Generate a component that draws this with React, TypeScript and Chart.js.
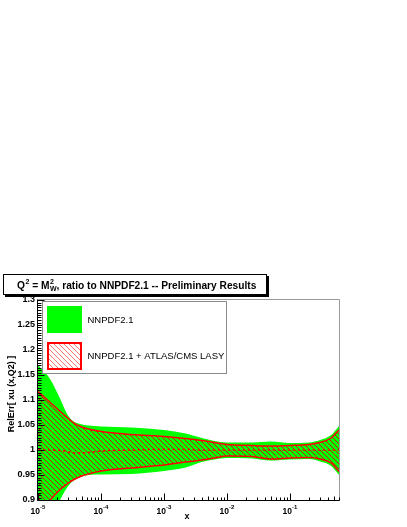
import React, { useEffect, useRef } from 'react';
import { Chart, registerables } from 'chart.js';

Chart.register(...registerables);

// ---- data ----
const xValues = [1e-5, 1.5e-5, 2.2e-5, 2.9e-5, 3.6e-5, 4.7e-5, 6.3e-5, 1e-4, 3e-4, 1e-3, 2.2e-3, 4e-3, 6.3e-3, 1e-2, 2.5e-2, 5e-2, 0.1, 0.2, 0.3, 0.45, 0.6];
const nnpdfUpper = [1.17, 1.145, 1.105, 1.072, 1.058, 1.052, 1.049, 1.047, 1.045, 1.04, 1.033, 1.024, 1.018, 1.015, 1.015, 1.017, 1.014, 1.015, 1.02, 1.03, 1.048];
const nnpdfLower = [0.8, 0.85, 0.898, 0.925, 0.938, 0.946, 0.95, 0.951, 0.952, 0.958, 0.965, 0.976, 0.981, 0.984, 0.983, 0.979, 0.981, 0.982, 0.977, 0.968, 0.95];
const lasyUpper = [1.117, 1.097, 1.078, 1.065, 1.055, 1.047, 1.042, 1.037, 1.031, 1.027, 1.023, 1.019, 1.015, 1.011, 1.009, 1.008, 1.009, 1.011, 1.015, 1.024, 1.04];
const lasyLower = [0.86, 0.897, 0.92, 0.932, 0.94, 0.947, 0.952, 0.958, 0.964, 0.97, 0.976, 0.98, 0.984, 0.988, 0.987, 0.982, 0.984, 0.985, 0.982, 0.974, 0.957];
const lasyCentral = [1.0, 1.0, 0.999, 0.997, 0.994, 0.994, 0.995, 0.998, 1.0, 1.001, 1.001, 1.0, 1.0, 1.0, 1.0, 1.0, 1.0, 1.0, 1.0, 1.0, 1.0];

const yTickValues = [1.3, 1.25, 1.2, 1.15, 1.1, 1.05, 1.0, 0.95, 0.9];
const yTickLabels = ['1.3', '1.25', '1.2', '1.15', '1.1', '1.05', '1', '0.95', '0.9'];
const xTickDecades = [-5, -4, -3, -2, -1];
const seriesNames = ['NNPDF2.1', 'NNPDF2.1 + ATLAS/CMS LASY'];
const yAxisTitle = 'RelErr[ xu (x,Q2) ]';
const xAxisTitle = 'x';
const titleRest = ', ratio to NNPDF2.1 -- Preliminary Results';

const X_MIN = 1e-5;
const X_MAX = 0.6;
const Y_MIN = 0.9;
const Y_MAX = 1.3;

const FONT = '"Liberation Sans", Arial, Helvetica, sans-serif';
const GREEN = '#00ff00';
const RED = '#ff0000';

function makeHatch(ctx: CanvasRenderingContext2D, bg: string | null, fg: string) {
  const c = document.createElement('canvas');
  c.width = 5;
  c.height = 5;
  const g = c.getContext('2d')!;
  if (bg) {
    g.fillStyle = bg;
    g.fillRect(0, 0, 5, 5);
  }
  g.fillStyle = fg;
  for (let i = 0; i < 5; i++) g.fillRect(i, i, 1, 1);
  return ctx.createPattern(c, 'repeat')!;
}

const rootPlugin = {
  id: 'rootStyle',
  afterDatasetsDraw(chart: any) {
    const { ctx, chartArea: a, scales } = chart;
    const xs = scales.x;
    const ys = scales.y;
    const L = Math.round(a.left) - 0.5;
    const R = Math.round(a.right) + 0.5;
    const T = Math.round(a.top) - 0.5;
    const B = Math.round(a.bottom) + 0.5;
    ctx.save();
    ctx.lineWidth = 1;
    // frame top / right (grey)
    ctx.strokeStyle = '#9a9a9a';
    ctx.beginPath();
    ctx.moveTo(L, T);
    ctx.lineTo(R, T);
    ctx.lineTo(R, B);
    ctx.stroke();
    // axes
    ctx.strokeStyle = '#000';
    ctx.beginPath();
    ctx.moveTo(L, T);
    ctx.lineTo(L, B);
    ctx.lineTo(R, B);
    ctx.stroke();
    // y ticks
    ctx.beginPath();
    const nSteps = Math.round((Y_MAX - Y_MIN) / 0.005);
    for (let i = 0; i <= nSteps; i++) {
      const v = Y_MIN + i * 0.005;
      const y = Math.round(ys.getPixelForValue(v)) + 0.5;
      const len = i % 10 === 0 ? 7 : 4;
      ctx.moveTo(L, y);
      ctx.lineTo(L + len, y);
    }
    ctx.stroke();
    // x ticks
    ctx.beginPath();
    for (const d of xTickDecades) {
      for (let m = 1; m <= 9; m++) {
        const v = m * Math.pow(10, d);
        if (v > X_MAX * 1.0001) break;
        const x = Math.round(xs.getPixelForValue(v)) + 0.5;
        const len = m === 1 ? 7 : m === 5 ? 4 : 3;
        ctx.moveTo(x, B);
        ctx.lineTo(x, B - len);
      }
    }
    ctx.stroke();

    // y tick labels
    ctx.fillStyle = '#000';
    ctx.font = `bold 9px ${FONT}`;
    ctx.textAlign = 'right';
    ctx.textBaseline = 'middle';
    yTickValues.forEach((v, i) => {
      ctx.fillText(yTickLabels[i], a.left - 3, ys.getPixelForValue(v));
    });

    // x tick labels 10^d
    ctx.textAlign = 'left';
    ctx.textBaseline = 'alphabetic';
    for (const d of xTickDecades) {
      const x = xs.getPixelForValue(Math.pow(10, d));
      ctx.font = `bold 8.5px ${FONT}`;
      const w1 = ctx.measureText('10').width;
      ctx.font = `bold 6px ${FONT}`;
      const sup = String(d);
      const w2 = ctx.measureText(sup).width;
      const x0 = x - (w1 + w2) / 2;
      ctx.font = `bold 8.5px ${FONT}`;
      ctx.fillText('10', x0, 513.5);
      ctx.font = `bold 6px ${FONT}`;
      ctx.fillText(sup, x0 + w1, 509);
    }

    // axis titles
    ctx.font = `bold 9px ${FONT}`;
    ctx.textAlign = 'center';
    ctx.fillText(xAxisTitle, 187, 519);
    ctx.save();
    ctx.translate(14, 394);
    ctx.rotate(-Math.PI / 2);
    ctx.textBaseline = 'alphabetic';
    ctx.fillText(yAxisTitle, 0, 0);
    ctx.restore();

    // legend
    ctx.fillStyle = '#fff';
    ctx.fillRect(42, 301, 184, 72);
    ctx.strokeStyle = '#8a8a8a';
    ctx.strokeRect(42.5, 301.5, 184, 72);
    ctx.fillStyle = GREEN;
    ctx.fillRect(47, 306, 35, 27);
    ctx.fillStyle = makeHatch(ctx, '#ffffff', 'rgba(255,0,0,0.55)');
    ctx.fillRect(48, 343, 33, 26);
    ctx.strokeStyle = RED;
    ctx.lineWidth = 2;
    ctx.strokeRect(48, 343, 33, 26);
    ctx.fillStyle = '#000';
    ctx.font = `9.5px ${FONT}`;
    ctx.textAlign = 'left';
    ctx.textBaseline = 'middle';
    ctx.fillText(seriesNames[0], 87.5, 320.5);
    ctx.fillText(seriesNames[1], 87.5, 356);

    // title box
    ctx.fillStyle = '#000';
    ctx.fillRect(5, 276, 264, 21);
    ctx.fillStyle = '#fff';
    ctx.fillRect(3, 274, 264, 21);
    ctx.strokeStyle = '#000';
    ctx.lineWidth = 1;
    ctx.strokeRect(3.5, 274.5, 263, 20);

    ctx.fillStyle = '#000';
    ctx.textBaseline = 'alphabetic';
    ctx.textAlign = 'left';
    let tx = 17;
    const base = 288.5;
    const big = `bold 10.2px ${FONT}`;
    const small = `bold 7px ${FONT}`;
    ctx.font = big;
    ctx.fillText('Q', tx, base);
    tx += ctx.measureText('Q').width + 0.5;
    ctx.font = small;
    ctx.fillText('2', tx, base - 4.5);
    tx += ctx.measureText('2').width;
    ctx.font = big;
    ctx.fillText(' = M', tx, base);
    tx += ctx.measureText(' = M').width + 0.5;
    ctx.font = small;
    ctx.fillText('2', tx, base - 4.5);
    ctx.fillText('W', tx, base + 2.5);
    tx += ctx.measureText('W').width;
    ctx.font = big;
    ctx.fillText(titleRest, tx, base);

    ctx.restore();
  },
};

export default function App() {
  const ref = useRef<HTMLCanvasElement | null>(null);
  useEffect(() => {
    const canvas = ref.current!;
    const ctx = canvas.getContext('2d')!;
    const bandHatch = makeHatch(ctx, null, 'rgba(225,0,0,0.9)');
    const pts = (arr: number[]) => arr.map((y, i) => ({ x: xValues[i], y }));
    const common = { pointRadius: 0, cubicInterpolationMode: 'monotone' as const, clip: 0 };
    const chart = new Chart(canvas, {
      type: 'line',
      data: {
        datasets: [
          { ...common, label: seriesNames[0] + ' up', data: pts(nnpdfUpper), borderColor: 'rgba(0,0,0,0)', borderWidth: 0, backgroundColor: GREEN, fill: '+1', order: 10 },
          { ...common, label: seriesNames[0] + ' low', data: pts(nnpdfLower), borderColor: 'rgba(0,0,0,0)', borderWidth: 0, fill: false, order: 10 },
          { ...common, label: seriesNames[1] + ' up', data: pts(lasyUpper), borderColor: RED, borderWidth: 1.5, backgroundColor: bandHatch, fill: '+1', order: 5 },
          { ...common, label: seriesNames[1] + ' low', data: pts(lasyLower), borderColor: RED, borderWidth: 1.5, fill: false, order: 5 },
          { ...common, label: seriesNames[1], data: pts(lasyCentral), borderColor: RED, borderWidth: 1.5, borderDash: [2.5, 2.5], fill: false, order: 1 },
        ],
      },
      options: {
        animation: false,
        responsive: false,
        devicePixelRatio: 1,
        layout: { padding: { left: 38, top: 300, right: 68, bottom: 27 } },
        scales: {
          x: { type: 'logarithmic', min: X_MIN, max: X_MAX, display: false },
          y: { type: 'linear', min: Y_MIN, max: Y_MAX, display: false },
        },
        plugins: {
          legend: { display: false },
          title: { display: false },
          tooltip: { enabled: false },
        },
        events: [],
      },
      plugins: [rootPlugin],
    });
    return () => chart.destroy();
  }, []);
  return (
    <div style={{ position: 'fixed', left: 0, top: 0, width: 407, height: 527, background: '#fff' }}>
      <canvas ref={ref} width={407} height={527} style={{ display: 'block' }} />
    </div>
  );
}
